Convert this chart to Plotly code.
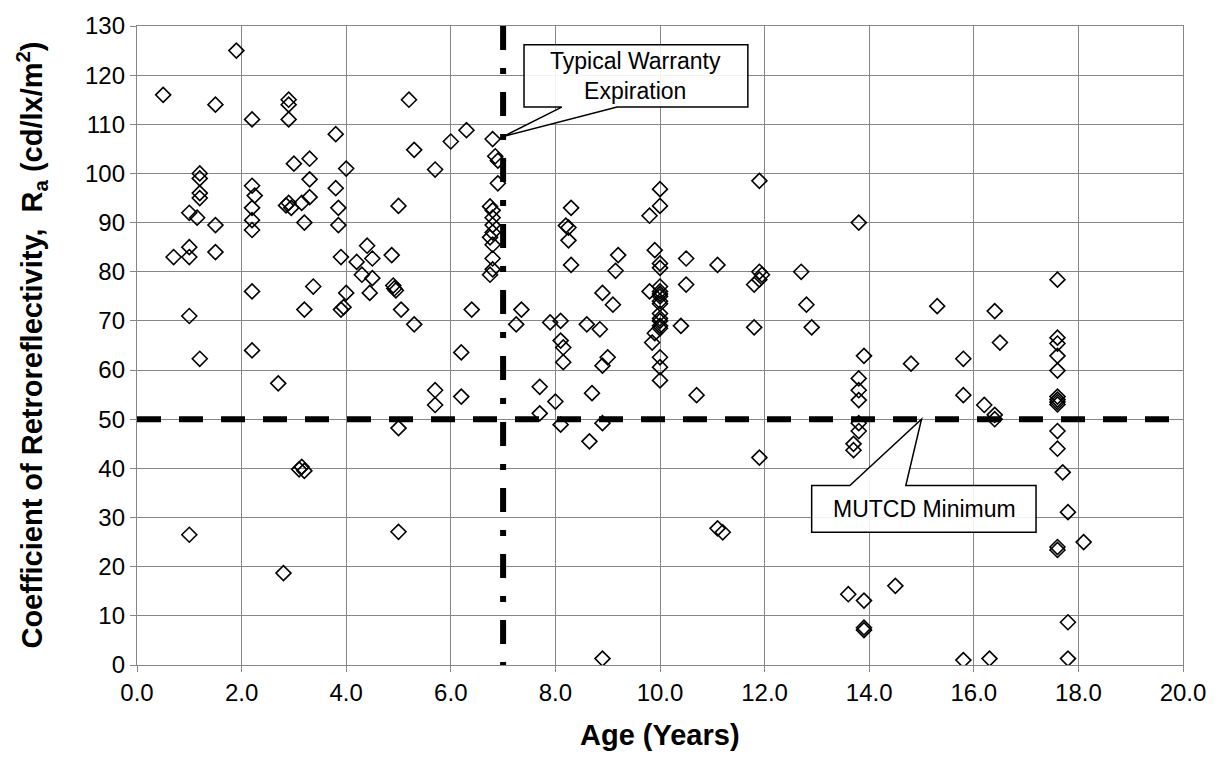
import plotly.graph_objects as go

# ---------------- data ----------------
age_years = [
    0.5, 0.7, 1.0, 1.0, 1.0, 1.15, 1.0, 1.0, 1.2, 1.2, 1.2, 1.2, 1.2, 1.5, 1.5, 1.5, 1.9,
    2.2, 2.2, 2.25, 2.2, 2.2, 2.2, 2.2, 2.2, 2.7, 2.8, 2.9, 2.9, 2.9, 2.85, 2.9, 2.95, 3.0,
    3.15, 3.1, 3.15, 3.2, 3.2, 3.2, 3.3, 3.3, 3.3, 3.37, 3.8, 3.8, 3.85, 3.85, 3.9, 3.9, 3.95, 4.0, 4.0,
    4.4, 4.2, 4.5, 4.3, 4.5, 4.45, 4.87, 4.9, 4.92, 4.95, 5.0, 5.05, 5.0, 5.0,
    5.2, 5.3, 5.3, 5.7, 5.7, 5.7, 6.0, 6.3, 6.4, 6.2, 6.2, 6.8, 6.85, 6.9, 6.9,
    6.75, 6.8, 6.8, 6.8, 6.8, 6.75, 6.8, 6.8, 6.8, 6.75,
    7.35, 7.25, 7.7, 7.7, 8.0, 8.1, 7.9, 8.1, 8.1, 8.15, 8.15, 8.3, 8.2, 8.25, 8.25, 8.3,
    8.6, 8.7, 8.65, 8.9, 9.1, 8.85, 9.0, 8.9, 8.9, 8.9, 9.2, 9.15,
    10.0, 10.0, 9.8, 9.9, 10.0, 10.0, 9.8, 10.0, 10.0, 10.0, 10.0, 10.0, 10.0, 10.0, 10.0,
    10.0, 10.0, 10.0, 9.9, 9.85, 10.0, 10.0, 10.0, 10.5, 10.5, 10.4, 10.7,
    11.1, 11.1, 11.2, 11.9, 11.9, 11.95, 11.9, 11.8, 11.8, 11.9, 12.7, 12.8, 12.9,
    13.8, 13.9, 13.8, 13.8, 13.8, 13.8, 13.8, 13.7, 13.7, 13.6, 13.9, 13.9, 13.9, 14.5, 14.8,
    15.3, 15.8, 15.8, 15.8, 16.2, 16.3, 16.4, 16.4, 16.4, 16.5,
    17.6, 17.6, 17.6, 17.6, 17.6, 17.6, 17.6, 17.6, 17.6, 17.6, 17.6, 17.7, 17.8, 17.6, 17.6,
    17.8, 17.8, 18.1,
]
retro_ra = [
    116, 83, 85, 83, 92, 91, 71, 26.5, 100, 99, 96, 95, 62.3, 114, 89.5, 84, 125,
    111, 97.5, 95.5, 93, 90.5, 88.5, 76, 64, 57.3, 18.7, 115, 114, 111, 93.5, 94, 93, 102,
    94, 39.8, 40.3, 39.5, 90, 72.3, 103, 98.8, 95.2, 77, 108, 97, 93, 89.5, 83, 72.3, 72.8, 101, 75.7,
    85.3, 82, 82.7, 79.4, 78.7, 75.7, 83.4, 77.2, 76.6, 76.2, 93.4, 72.3, 48.2, 27.1,
    115, 104.8, 69.3, 100.8, 55.9, 52.9, 106.5, 108.8, 72.3, 63.6, 54.6, 107, 103.5, 102.6, 98,
    93.3, 92.5, 91, 89.5, 88, 87, 85.5, 82.7, 80.5, 79.4,
    72.3, 69.3, 56.6, 51.2, 53.6, 48.9, 69.7, 70, 66, 64.6, 61.6, 93, 89.4, 89, 86.4, 81.4,
    69.3, 55.3, 45.5, 75.7, 73.3, 68.3, 62.6, 60.9, 49.2, 1.3, 83.4, 80.2,
    96.8, 93.4, 91.4, 84.4, 81.7, 80.8, 76, 77, 76, 75.5, 75, 74, 73.5, 71.5, 70.5,
    70, 69, 68.5, 67.5, 65.6, 62.6, 60.6, 57.9, 82.7, 77.4, 69, 54.9,
    81.4, 27.8, 27, 98.5, 80, 79.4, 78.4, 77.4, 68.7, 42.2, 80, 73.3, 68.7,
    90, 62.9, 58.3, 55.9, 53.9, 49.2, 47.6, 45, 43.7, 14.4, 13.1, 7.6, 7.1, 16.1, 61.3,
    73, 62.3, 54.9, 1.0, 52.9, 1.3, 72, 50.9, 50, 65.6,
    78.4, 66.6, 65.4, 62.9, 59.9, 54.6, 54, 53.5, 53, 47.6, 44, 39.2, 31.1, 24, 23.4,
    8.7, 1.3, 25,
]

x_ticks = [0, 2, 4, 6, 8, 10, 12, 14, 16, 18, 20]
y_ticks = [0, 10, 20, 30, 40, 50, 60, 70, 80, 90, 100, 110, 120, 130]

MUTCD_MINIMUM = 50
WARRANTY_YEARS = 7

FONT = "Liberation Sans, Arial, sans-serif"
GRID = "rgb(134,134,134)"

fig = go.Figure()
fig.add_trace(go.Scatter(
    x=age_years, y=retro_ra, mode="markers",
    marker=dict(symbol="diamond-open", size=11.5, color="black",
                line=dict(color="black", width=1.6)),
    showlegend=False, hoverinfo="x+y",
))

shapes = [
    # MUTCD minimum line
    dict(type="line", xref="x", yref="y", x0=x_ticks[0], x1=x_ticks[-1],
         y0=MUTCD_MINIMUM, y1=MUTCD_MINIMUM, layer="between",
         line=dict(color="black", width=6, dash="24px,18px")),
    # warranty expiration line (drawn top to bottom)
    dict(type="line", xref="x", yref="y", x0=WARRANTY_YEARS, x1=WARRANTY_YEARS,
         y0=y_ticks[-1], y1=y_ticks[0], layer="between",
         line=dict(color="black", width=6, dash="24px,18px,6px,18px")),
    # callout: Typical Warranty Expiration
    dict(type="path", xref="x", yref="y", layer="above",
         path="M 7.40,126.2 L 11.68,126.2 L 11.68,113.5 L 9.18,113.5 L 7.0,107.5 "
              "L 8.12,113.5 L 7.40,113.5 Z",
         fillcolor="rgba(255,255,255,0.9)", line=dict(color="black", width=1.5)),
    # callout: MUTCD Minimum
    dict(type="path", xref="x", yref="y", layer="above",
         path="M 12.90,36.5 L 13.63,36.5 L 15.0,50.0 L 14.70,36.5 L 17.19,36.5 "
              "L 17.19,27.0 L 12.90,27.0 Z",
         fillcolor="rgba(255,255,255,0.9)", line=dict(color="black", width=1.5)),
]

annotations = [
    dict(x=9.54, y=119.85, xref="x", yref="y", text="Typical Warranty<br>Expiration",
         showarrow=False, font=dict(family=FONT, size=23, color="black"),
         xanchor="center", yanchor="middle"),
    dict(x=15.05, y=31.75, xref="x", yref="y", text="MUTCD Minimum",
         showarrow=False, font=dict(family=FONT, size=23, color="black"),
         xanchor="center", yanchor="middle"),
    dict(x=-0.1013, y=0.5, xref="paper", yref="paper", textangle=-90,
         text="<b>Coefficient of Retroreflectivity,  R<sub>a</sub> (cd/lx/m<sup>2</sup>)</b>",
         showarrow=False, font=dict(family=FONT, size=29, color="black"),
         xanchor="center", yanchor="middle"),
    dict(x=0.5, y=-0.1097, xref="paper", yref="paper", text="<b>Age (Years)</b>",
         showarrow=False, font=dict(family=FONT, size=29, color="black"),
         xanchor="center", yanchor="middle"),
]

fig.update_layout(
    width=1218, height=776,
    margin=dict(l=137, r=35, t=18, b=111),
    paper_bgcolor="white", plot_bgcolor="white",
    font=dict(family=FONT, size=24, color="black"),
    shapes=shapes, annotations=annotations,
)
fig.update_xaxes(
    range=[x_ticks[0], x_ticks[-1]], tickvals=x_ticks,
    ticktext=[f"{v:.1f}" for v in x_ticks],
    showgrid=True, gridcolor=GRID, gridwidth=1.4,
    showline=True, linecolor=GRID, linewidth=1.4, mirror=True,
    ticks="outside", ticklen=6, tickcolor=GRID, tickwidth=1.4,
    zeroline=False, tickfont=dict(family=FONT, size=24, color="black"),
)
fig.update_yaxes(
    range=[y_ticks[0], y_ticks[-1]], tickvals=y_ticks,
    showgrid=True, gridcolor=GRID, gridwidth=1.4,
    showline=True, linecolor=GRID, linewidth=1.4, mirror=True,
    ticks="outside", ticklen=6, tickcolor=GRID, tickwidth=1.4,
    zeroline=False, tickfont=dict(family=FONT, size=24, color="black"),
)

fig.write_html("out.html")
